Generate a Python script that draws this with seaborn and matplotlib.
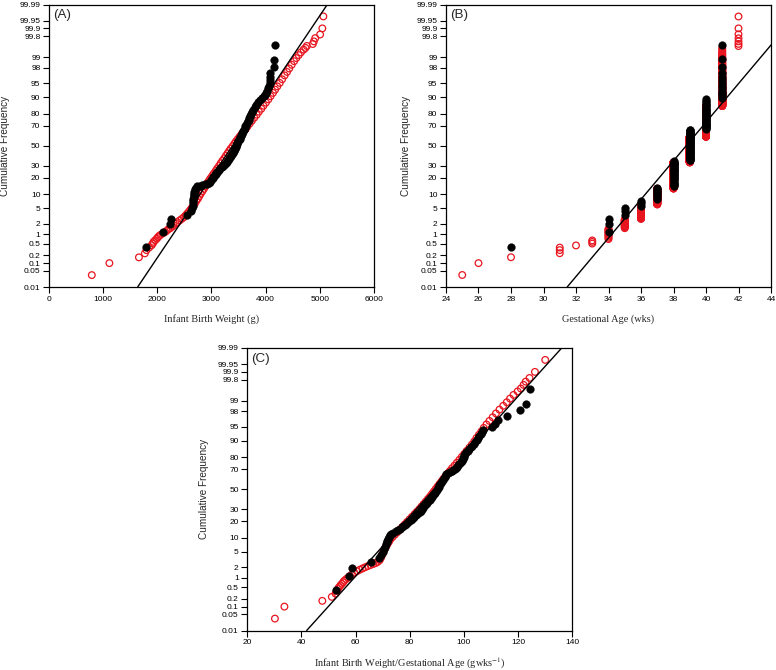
import math
import numpy as np
import pandas as pd
import matplotlib
matplotlib.use("Agg")
import matplotlib.pyplot as plt
import seaborn as sns
from matplotlib.ticker import NullLocator

# ------------------------------------------------------------------ data
PCT_TICKS = [0.01, 0.05, 0.1, 0.2, 0.5, 1, 2, 5, 10, 20, 30, 50, 70, 80, 90,
             95, 98, 99, 99.8, 99.9, 99.95, 99.99]
PCT_LABELS = ["0.01", "0.05", "0.1", "0.2", "0.5", "1", "2", "5", "10", "20",
              "30", "50", "70", "80", "90", "95", "98", "99", "99.8", "99.9",
              "99.95", "99.99"]

# Panel A: infant birth weight (g) vs cumulative frequency (%)
a_red_pct = [0.033, 0.1, 0.165, 0.23, 0.3, 0.37, 0.44, 0.5, 0.57, 0.64,
             0.72, 0.8, 0.87, 0.95, 1.05, 1.15, 1.25, 1.38, 1.5, 1.65,
             1.8, 2.0, 2.2, 2.45, 2.7, 3.0, 3.3, 3.7, 4.1, 4.6,
             5.2, 5.8, 6.5, 7.3, 8.2, 9.2, 10.3, 11.5, 12.8, 14.2,
             15.8, 17.5, 19.3, 21.2, 23.2, 25.3, 27.5, 29.8, 32.2, 34.6,
             37.0, 39.5, 42.0, 44.5, 47.0, 49.5, 52.0, 54.5, 57.0, 59.5,
             62.0, 64.5, 67.0, 69.5, 72.0, 74.5, 77.0, 79.3, 81.5, 83.5,
             85.4, 87.2, 88.9, 90.4, 91.8, 93.0, 94.1, 95.1, 96.0, 96.8,
             97.4, 97.9, 98.35, 98.7, 98.95, 99.15, 99.3, 99.43, 99.5, 99.57,
             99.63, 99.7, 99.77, 99.83, 99.9, 99.967]
a_red_bw = [790, 1115, 1660, 1770, 1800, 1850, 1895, 1915, 1930, 1960,
            1990, 2010, 2030, 2060, 2100, 2140, 2170, 2200, 2240, 2270,
            2300, 2340, 2370, 2410, 2450, 2490, 2520, 2550, 2580, 2610,
            2640, 2670, 2695, 2720, 2750, 2775, 2800, 2830, 2860, 2885,
            2915, 2945, 2975, 3010, 3040, 3075, 3105, 3140, 3170, 3200,
            3235, 3265, 3295, 3325, 3355, 3390, 3420, 3450, 3485, 3520,
            3555, 3590, 3630, 3665, 3705, 3745, 3790, 3835, 3875, 3920,
            3960, 4005, 4050, 4090, 4135, 4175, 4215, 4260, 4305, 4350,
            4395, 4435, 4480, 4525, 4565, 4610, 4650, 4700, 4735, 4760,
            4870, 4890, 4915, 5005, 5046, 5065]
a_blk_pct = [0.385, 1.15, 1.92, 2.69, 3.46, 4.23, 5.0, 5.77, 6.54, 7.31,
             8.08, 8.85, 9.6, 10.4, 11.2, 11.9, 12.7, 13.5, 14.2, 14.6,
             15.0, 15.4, 15.8, 16.5, 17.3, 18.1, 18.8, 19.6, 20.4, 21.2,
             22.0, 22.7, 23.5, 24.5, 25.5, 26.5, 27.5, 28.5, 29.5, 30.5,
             31.5, 32.5, 33.5, 35.0, 36.5, 38.0, 39.5, 41.0, 42.5, 44.0,
             45.5, 47.0, 48.5, 50.0, 51.5, 53.0, 54.5, 56.0, 57.5, 59.0,
             60.5, 62.0, 63.5, 65.0, 66.5, 68.0, 69.5, 71.0, 72.5, 74.0,
             75.5, 77.0, 78.5, 80.0, 81.5, 83.0, 84.5, 86.0, 87.5, 88.5,
             89.5, 90.3, 91.1, 91.9, 92.7, 93.5, 94.2, 95.0, 95.8, 96.5,
             97.3, 98.1, 98.8, 99.6]
a_blk_bw = [1790, 2098, 2232, 2246, 2545, 2625, 2645, 2652, 2657, 2662,
            2666, 2670, 2675, 2680, 2686, 2692, 2700, 2708, 2730, 2780,
            2830, 2880, 2920, 2955, 2980, 2995, 3010, 3025, 3035, 3050,
            3065, 3078, 3090, 3105, 3120, 3140, 3160, 3185, 3210, 3235,
            3255, 3270, 3280, 3300, 3320, 3345, 3365, 3380, 3395, 3410,
            3420, 3435, 3450, 3460, 3470, 3480, 3490, 3505, 3520, 3535,
            3550, 3560, 3570, 3580, 3595, 3610, 3625, 3640, 3655, 3670,
            3685, 3700, 3715, 3730, 3745, 3770, 3800, 3830, 3860, 3895,
            3930, 3960, 3990, 4010, 4030, 4050, 4065, 4075, 4078, 4082,
            4088, 4155, 4162, 4172]
a_fit_mean, a_fit_sd = 3387.5, 470.7

# Panel B: gestational age (weeks) -- number of infants per week
b_red_weeks = [25, 26, 28, 31, 32, 33, 34, 35, 36, 37, 38, 39, 40, 41, 42]
b_red_counts = [1, 1, 1, 3, 1, 3, 12, 18, 51, 103, 301, 395, 387, 216, 7]
b_blk_weeks = [28, 34, 35, 36, 37, 38, 39, 40, 41]
b_blk_counts = [1, 3, 3, 3, 8, 27, 42, 29, 14]
b_fit_mean, b_fit_sd = 38.78, 1.969

# Panel C: birth weight / gestational age (g wks^-1)
c_red_pct = [0.033, 0.1, 0.165, 0.23, 0.3, 0.37, 0.44, 0.5, 0.57, 0.64,
             0.72, 0.8, 0.9, 1.0, 1.12, 1.25, 1.4, 1.55, 1.7, 1.85,
             2.0, 2.15, 2.3, 2.45, 2.6, 2.8, 3.1, 3.6, 4.2, 4.9,
             5.6, 6.4, 7.3, 8.3, 9.3, 10.4, 11.6, 12.9, 14.4, 16.0,
             17.7, 19.5, 21.4, 23.4, 25.5, 27.7, 30.0, 32.4, 34.9, 37.4,
             40.0, 42.6, 45.2, 47.8, 50.4, 53.0, 55.6, 58.2, 60.8, 63.4,
             66.0, 68.5, 71.0, 73.4, 75.8, 78.1, 80.3, 82.4, 84.4, 86.3,
             88.0, 89.6, 91.1, 92.4, 93.6, 94.7, 95.6, 96.4, 97.1, 97.7,
             98.2, 98.6, 98.9, 99.15, 99.35, 99.5, 99.6, 99.7, 99.77, 99.83,
             99.9, 99.967]
c_red_ratio = [30.2, 33.7, 47.7, 51.2, 52.6, 53.0, 53.5, 53.9, 54.4, 54.9,
               55.4, 55.8, 56.5, 57.2, 57.9, 58.7, 59.5, 60.5, 61.5, 62.5,
               63.5, 64.5, 65.5, 66.5, 67.4, 68.2, 68.9, 69.4, 69.8, 70.2,
               70.6, 71.1, 71.7, 72.3, 72.8, 73.6, 74.5, 75.4, 76.3, 77.2,
               78.1, 79.0, 79.9, 80.8, 81.7, 82.6, 83.5, 84.3, 85.1, 85.9,
               86.7, 87.5, 88.2, 88.9, 89.6, 90.3, 91.0, 91.7, 92.4, 93.2,
               94.0, 94.8, 95.6, 96.5, 97.4, 98.3, 99.2, 100.1, 101.0, 102.0,
               102.9, 103.8, 104.6, 105.5, 106.4, 107.3, 108.3, 109.4, 110.6, 111.8,
               113.1, 114.5, 115.8, 117.0, 118.3, 119.8, 121.0, 122.0, 122.8, 124.2,
               126.2, 130.0]
c_blk_pct = [0.385, 1.15, 1.92, 2.69, 3.46, 4.23, 5.0, 5.77, 6.54, 7.31,
             8.08, 8.85, 9.6, 10.4, 11.2, 11.9, 12.7, 13.5, 14.2, 15.0,
             15.8, 16.5, 17.3, 18.1, 18.8, 19.6, 20.4, 21.2, 22.0, 22.7,
             23.5, 24.5, 25.5, 26.5, 27.5, 28.5, 29.5, 30.5, 31.5, 32.6,
             33.8, 35.0, 36.2, 37.5, 39.0, 40.5, 42.0, 43.5, 45.0, 46.5,
             48.0, 49.5, 51.0, 52.5, 54.0, 55.5, 57.0, 58.5, 60.0, 61.5,
             63.0, 64.5, 66.0, 67.0, 67.8, 68.6, 69.5, 70.5, 71.5, 72.5,
             73.5, 74.5, 75.5, 76.5, 77.5, 78.5, 79.5, 80.5, 81.5, 82.5,
             83.5, 84.5, 85.5, 86.5, 87.5, 88.5, 89.5, 90.3, 91.1, 91.9,
             92.7, 93.5, 94.2, 95.0, 95.8, 96.5, 97.3, 98.1, 98.8, 99.6]
c_blk_ratio = [52.6, 57.6, 58.6, 65.6, 68.6, 69.4, 70.0, 70.4, 70.8, 71.1,
               71.4, 71.7, 72.0, 72.3, 72.6, 73.0, 73.8, 74.8, 75.6, 76.4,
               77.0, 77.6, 78.1, 78.6, 79.0, 79.4, 79.8, 80.3, 80.8, 81.3,
               81.7, 82.2, 82.7, 83.2, 83.6, 84.0, 84.3, 84.6, 84.8, 85.0,
               85.5, 86.0, 86.4, 86.9, 87.4, 87.9, 88.3, 88.6, 88.9, 89.2,
               89.5, 89.9, 90.3, 90.6, 90.9, 91.3, 91.7, 92.0, 92.4, 92.7,
               93.0, 93.2, 93.5, 94.0, 94.8, 95.5, 96.0, 96.6, 97.1, 97.5,
               97.8, 98.2, 98.6, 99.0, 99.3, 99.5, 99.7, 99.9, 100.1, 100.3,
               100.8, 101.4, 102.0, 102.5, 103.1, 103.6, 104.2, 104.7, 105.2, 105.7,
               106.2, 106.7, 107.2, 110.2, 111.5, 112.7, 115.8, 120.7, 122.8, 124.4]
c_fit_mean, c_fit_sd = 89.0, 12.66

# ------------------------------------------------------------ probit scale
_A = [-3.969683028665376e+01, 2.209460984245205e+02, -2.759285104469687e+02,
      1.383577518672690e+02, -3.066479806614716e+01, 2.506628277459239e+00]
_B = [-5.447609879822406e+01, 1.615858368580409e+02, -1.556989798598866e+02,
      6.680131188771972e+01, -1.328068155288572e+01]
_C = [-7.784894002430293e-03, -3.223964580411365e-01, -2.400758277161838e+00,
      -2.549732539343734e+00, 4.374664141464968e+00, 2.938163982698783e+00]
_D = [7.784695709041462e-03, 3.224671290700398e-01, 2.445134137142996e+00,
      3.754408661907416e+00]


def _ppf(q):
    q = np.asarray(q, dtype=float)
    shape = q.shape
    q = np.clip(np.atleast_1d(q).ravel(), 1e-12, 1 - 1e-12)
    z = np.empty_like(q)
    plow = 0.02425
    lo = q < plow
    hi = q > 1 - plow
    mid = ~(lo | hi)
    if lo.any():
        t = np.sqrt(-2 * np.log(q[lo]))
        z[lo] = (((((_C[0]*t+_C[1])*t+_C[2])*t+_C[3])*t+_C[4])*t+_C[5]) / \
                ((((_D[0]*t+_D[1])*t+_D[2])*t+_D[3])*t+1)
    if hi.any():
        t = np.sqrt(-2 * np.log(1 - q[hi]))
        z[hi] = -(((((_C[0]*t+_C[1])*t+_C[2])*t+_C[3])*t+_C[4])*t+_C[5]) / \
                 ((((_D[0]*t+_D[1])*t+_D[2])*t+_D[3])*t+1)
    if mid.any():
        t = q[mid] - 0.5
        r = t * t
        z[mid] = (((((_A[0]*r+_A[1])*r+_A[2])*r+_A[3])*r+_A[4])*r+_A[5])*t / \
                 (((((_B[0]*r+_B[1])*r+_B[2])*r+_B[3])*r+_B[4])*r+1)
    return z.reshape(shape)


_erf = np.vectorize(math.erf, otypes=[float])


def pct_forward(p):
    return _ppf(np.asarray(p, dtype=float) / 100.0)


def pct_inverse(z):
    return 50.0 * (1.0 + _erf(np.asarray(z, dtype=float) / math.sqrt(2.0)))


# ------------------------------------------------------------ style
sns.set_style("ticks")
plt.rcParams["font.family"] = ["Liberation Sans", "DejaVu Sans"]
plt.rcParams["mathtext.fontset"] = "stix"

RED = "#e8151f"
SERIF = ["Liberation Serif", "DejaVu Serif"]

fig = plt.figure(figsize=(7.76, 6.70), dpi=100)
W, H = 776.0, 670.0
AX_W, AX_H = 325.0, 282.5


def make_axes(left_px, top_px):
    return fig.add_axes([left_px / W, 1 - (top_px + AX_H) / H, AX_W / W, AX_H / H])


def style_axes(ax, xlim, xticks, xlabel, panel, ylab_off):
    ax.set_yscale("function", functions=(pct_forward, pct_inverse))
    ax.set_ylim(0.01, 99.99)
    ax.set_yticks(PCT_TICKS, labels=PCT_LABELS)
    ax.yaxis.set_minor_locator(NullLocator())
    ax.set_xlim(*xlim)
    ax.set_xticks(xticks)
    ax.xaxis.set_minor_locator(NullLocator())
    ax.tick_params(direction="out", length=4.2, width=0.8, labelsize=6,
                   pad=2, colors="black")
    for s in ax.spines.values():
        s.set_visible(True)
        s.set_linewidth(0.9)
        s.set_color("black")
    ax.set_ylabel("Cumulative Frequency", fontsize=7.2, va="center")
    ax.yaxis.set_label_coords(-ylab_off / AX_W, 0.5)
    ax.set_xlabel(xlabel, fontsize=7.4, family=SERIF, va="center")
    ax.xaxis.set_label_coords(0.5, -32.5 / AX_H)
    ax.text(0.013, 0.962, panel, transform=ax.transAxes, fontsize=9.6,
            ha="left", va="center")
    ax.grid(False)


def draw_points(ax, x_red, p_red, x_blk, p_blk):
    red_df = pd.DataFrame({"x": x_red, "p": p_red})
    blk_df = pd.DataFrame({"x": x_blk, "p": p_blk})
    sns.scatterplot(data=red_df, x="x", y="p", ax=ax, marker="o", s=23,
                    facecolor="none", edgecolor=RED, linewidth=0.9, zorder=2)
    sns.scatterplot(data=blk_df, x="x", y="p", ax=ax, marker="o", s=32,
                    facecolor="black", edgecolor="black", linewidth=0.2, zorder=2.5)


def draw_fit(ax, mean, sd):
    zlim = _ppf(np.array([0.0001, 0.9999]))
    line_df = pd.DataFrame({"x": mean + sd * zlim, "p": [0.01, 99.99]})
    sns.lineplot(data=line_df, x="x", y="p", ax=ax, color="black",
                 linewidth=1.0, sort=False, zorder=3)


def plotting_positions(weeks, counts):
    vals = np.repeat(np.asarray(weeks, float), counts)
    n = len(vals)
    pct = (np.arange(1, n + 1) - 0.5) / n * 100.0
    return vals, pct


# Panel A
axA = make_axes(49, 4.5)
draw_points(axA, a_red_bw, a_red_pct, a_blk_bw, a_blk_pct)
draw_fit(axA, a_fit_mean, a_fit_sd)
style_axes(axA, (0, 6000), range(0, 6001, 1000), "Infant Birth Weight (g)", "(A)", 43.5)

# Panel B
axB = make_axes(446, 4.5)
bx_r, bp_r = plotting_positions(b_red_weeks, b_red_counts)
bx_k, bp_k = plotting_positions(b_blk_weeks, b_blk_counts)
draw_points(axB, bx_r, bp_r, bx_k, bp_k)
draw_fit(axB, b_fit_mean, b_fit_sd)
style_axes(axB, (24, 44), range(24, 45, 2), "Gestational Age (wks)", "(B)", 39.5)

# Panel C
axC = make_axes(247.3, 348)
draw_points(axC, c_red_ratio, c_red_pct, c_blk_ratio, c_blk_pct)
draw_fit(axC, c_fit_mean, c_fit_sd)
style_axes(axC, (20, 140), range(20, 141, 20),
           "Infant Birth Weight/Gestational Age (gwks$^{-1}$)", "(C)", 43.5)

fig.savefig("out.png", dpi=100, facecolor="white")
